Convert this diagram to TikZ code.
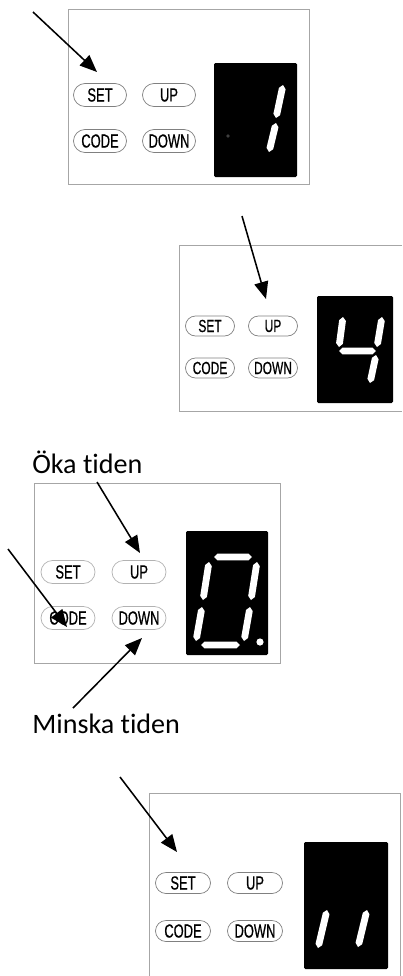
\documentclass[tikz,border=0pt]{standalone}
\usepackage{fontspec}
\setmainfont{Carlito}[Ligatures=NoCommon]
\newfontfamily\knappfont[FakeStretch=0.68,FakeBold=0.6]{Liberation Sans}
\usetikzlibrary{arrows.meta,shapes.misc,calc}
\tikzset{
  ram/.style={draw=black!35, line width=0.6pt},
  skarm/.style={fill=black, rounded corners=1pt},
  knapp/.style={rounded rectangle, draw=black!50, line width=0.5pt, inner sep=0pt,
    minimum width=13.25mm, minimum height=5.75mm, font=\knappfont\fontsize{13.5}{14}\selectfont},
  pil/.style={-{Triangle[length=4.3mm,width=3.5mm]}, line width=1.1pt},
  etikett/.style={font=\fontsize{20}{24}\selectfont, inner sep=0pt},
}
% ett segment i sifferfönstret
\newcommand{\segm}[2]{%
  \path ($(#1)!0.9mm!(#2)$) coordinate (sgA) ($(#2)!0.9mm!(#1)$) coordinate (sgB);
  \fill[white] (#1) -- ($(sgA)!0.85mm!90:(#2)$) -- ($(sgB)!0.85mm!-90:(#1)$) -- (#2)
    -- ($(sgB)!0.85mm!90:(#1)$) -- ($(sgA)!0.85mm!-90:(#2)$) -- cycle;}
\begin{document}
\begin{tikzpicture}[x=0.25mm, y=-0.25mm]
  \useasboundingbox (0,0) rectangle (402,976);
  % panel 1: SET, siffran 1
  \draw[ram] (68,9) rectangle (309,184);
  \fill[skarm] (214,63) rectangle (297,177);
  \node[knapp] (set1)  at (100,95)  {SET};
  \node[knapp] (up1)   at (169,95)  {UP};
  \node[knapp] (code1) at (100,141) {CODE};
  \node[knapp] (down1) at (169,141) {DOWN};
  \segm{283,85}{276,118}
  \segm{276,123}{269,152}
  \draw[black!50, line width=0.3pt] (228,136) circle (0.35mm);
  \coordinate (p1s) at (33,12);
  \coordinate (p1e) at (97,72);
  \draw[pil] (p1s) -- (p1e);
  % panel 2: UP, siffran 4
  \draw[ram] (402,245) -- (179,245) -- (179,411) -- (402,411);
  \fill[skarm] (317,296) rectangle (393,403);
  \node[knapp, minimum width=12.25mm, minimum height=5mm, font=\knappfont\fontsize{12.5}{13}\selectfont] (set2)  at (210,326) {SET};
  \node[knapp, minimum width=12.25mm, minimum height=5mm, font=\knappfont\fontsize{12.5}{13}\selectfont] (up2)   at (273,326) {UP};
  \node[knapp, minimum width=12.25mm, minimum height=5mm, font=\knappfont\fontsize{12.5}{13}\selectfont] (code2) at (210,368) {CODE};
  \node[knapp, minimum width=12.25mm, minimum height=5mm, font=\knappfont\fontsize{12.5}{13}\selectfont] (down2) at (273,368) {DOWN};
  \segm{343,317}{339,347}
  \segm{339,351}{376,351}
  \segm{382,317}{377,347}
  \segm{376,355}{370,383}
  \coordinate (p2s) at (242,216);
  \coordinate (p2e) at (266,299);
  \draw[pil] (p2s) -- (p2e);
  % panel 3: UP/DOWN, siffran 0.
  \draw[ram] (34,483) rectangle (280,663);
  \fill[skarm] (186,531) rectangle (268,655);
  \node[knapp, draw=black!30, minimum width=13.5mm] (set3)  at (68,572)  {SET};
  \node[knapp, draw=black!30, minimum width=13.5mm] (up3)   at (139,572) {UP};
  \node[knapp, draw=black!30, minimum width=13.5mm] (code3) at (68,618)  {CODE};
  \node[knapp, draw=black!30, minimum width=13.5mm] (down3) at (139,618) {DOWN};
  \segm{214,557}{252,557}
  \segm{209,562}{203,600}
  \segm{257,562}{251,600}
  \segm{202,607}{196,641}
  \segm{250,607}{244,641}
  \segm{201,645}{240,645}
  \fill[white] (260,642) circle (0.9mm);
  \node[etikett, anchor=base west] (oka)    at (32,473) {Öka tiden};
  \node[etikett, anchor=base west] (minska) at (32,733) {Minska tiden};
  \coordinate (p3s) at (97,482);
  \coordinate (p3e) at (140,553);
  \coordinate (p4s) at (8,549);
  \coordinate (p4e) at (67,627);
  \coordinate (p5s) at (73,708);
  \coordinate (p5e) at (142,638);
  \draw[pil] (p3s) -- (p3e);
  \draw[pil] (p4s) -- (p4e);
  \draw[pil] (p5s) -- (p5e);
  % panel 4: SET, siffran 11
  \draw[ram] (149,976) -- (149,793) -- (400,793) -- (400,976);
  \fill[skarm] (304,842) rectangle (388,969);
  \node[knapp, minimum width=13.75mm, minimum height=5.25mm] (set4)  at (183,883) {SET};
  \node[knapp, minimum width=13.75mm, minimum height=5.25mm] (up4)   at (255,883) {UP};
  \node[knapp, minimum width=13.75mm, minimum height=5.25mm] (code4) at (183,931) {CODE};
  \node[knapp, minimum width=13.75mm, minimum height=5.25mm] (down4) at (255,931) {DOWN};
  \segm{327,910}{318,948}
  \segm{367,910}{358,947}
  \coordinate (p6s) at (120,777);
  \coordinate (p6e) at (177,852);
  \draw[pil] (p6s) -- (p6e);
\end{tikzpicture}
\end{document}
